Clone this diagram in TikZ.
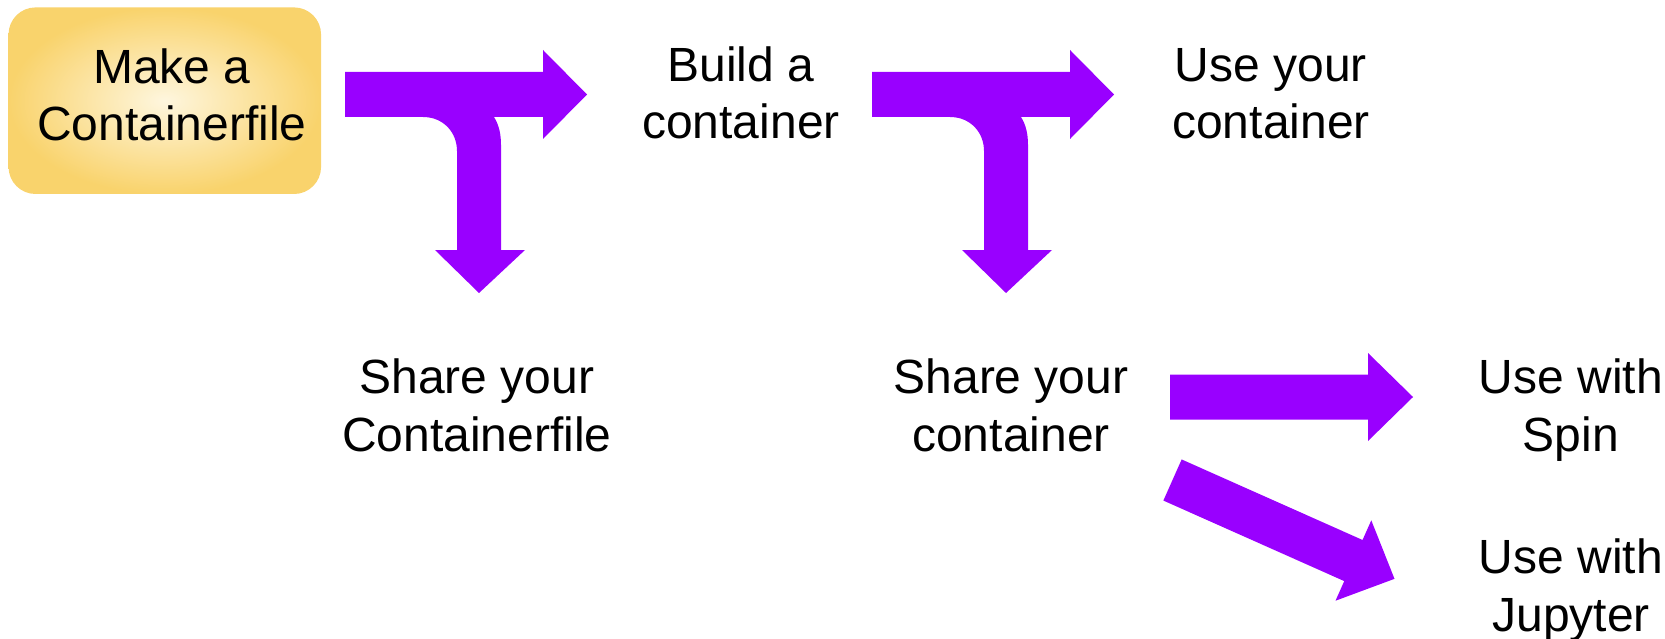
\documentclass[tikz,border=0pt]{standalone}
\usepackage{fontspec}
\setmainfont{Liberation Sans}
\definecolor{arrowpurple}{RGB}{153,0,255}
\definecolor{boxin}{RGB}{254,246,222}
\definecolor{boxout}{RGB}{249,211,108}
\tikzset{
  tarrow/.pic={
    \fill[arrowpurple] (0,0) -- (198,0) -- (198,-22) -- (242,22.5) -- (198,67) -- (198,45) -- (149,45)
      .. controls (154,53) and (156,62) .. (156,73) -- (156,178) -- (180,178) -- (134,221) -- (90,178)
      -- (112,178) -- (112,79) .. controls (112,60) and (98,45) .. (78,45) -- (0,45) -- cycle;
  },
  barrow/.pic={
    \fill[arrowpurple] (0,-22.5) -- (198,-22.5) -- (198,-44) -- (243,0) -- (198,44) -- (198,22.5) -- (0,22.5) -- cycle;
  }
}
\begin{document}
\begin{tikzpicture}[x=1pt,y=-1pt,
  lbl/.style={align=center, anchor=base, inner sep=0pt, font=\fontsize{48}{57.5}\selectfont},
  startbox/.style={rounded corners=27pt, inner color=boxin, outer color=boxout,
    minimum width=312.5pt, minimum height=186.6pt, align=center, inner sep=0pt,
    font=\fontsize{48}{57.5}\selectfont}]
\useasboundingbox (0,0) rectangle (1665,639);
\node[startbox] (make) at (164.8,100.7) {\hspace*{14pt}Make a\\\hspace*{14pt}Containerfile\rule[-12pt]{0pt}{0pt}};
\node[lbl] (build) at (741,139) {Build a\\container};
\node[lbl] (useyour) at (1271,139) {Use your\\container};
\node[lbl] (sharecf) at (477,451) {Share your\\Containerfile};
\node[lbl] (sharec) at (1011,451) {Share your\\container};
\node[lbl] (spin) at (1571,451) {Use with\\Spin};
\node[lbl] (jup) at (1571,631) {Use with\\Jupyter};
\pic (t1) at (345,72) {tarrow};
\pic (t2) at (872,72) {tarrow};
\pic (a3) at (1170,397) {barrow};
\pic[rotate=-24] (a4) at (1172.5,480) {barrow};
\end{tikzpicture}
\end{document}
